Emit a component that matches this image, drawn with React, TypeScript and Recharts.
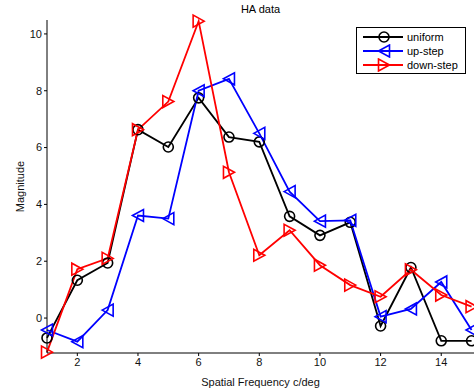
import React from "react";
import { LineChart, Line, XAxis, YAxis, Label } from "recharts";

const freq = [1, 2, 3, 4, 5, 6, 7, 8, 9, 10, 11, 12, 13, 14, 15];
const uniform = [-0.7, 1.33, 1.94, 6.63, 6.02, 7.75, 6.37, 6.2, 3.58, 2.91, 3.37, -0.28, 1.78, -0.8, -0.8];
const upStep = [-0.42, -0.83, 0.28, 3.61, 3.5, 8.0, 8.42, 6.5, 4.45, 3.41, 3.44, 0.05, 0.32, 1.27, -0.42];
const downStep = [-1.2, 1.72, 2.1, 6.63, 7.62, 10.45, 5.13, 2.21, 3.09, 1.86, 1.16, 0.75, 1.7, 0.81, 0.4];
const xTicks = [2, 4, 6, 8, 10, 12, 14];
const yTicks = [0, 2, 4, 6, 8, 10];

const data = freq.map((f, i) => ({ f, uniform: uniform[i], up: upStep[i], down: downStep[i] }));

const FONT = '"Liberation Sans", Arial, sans-serif';

const circleDot = (p: any) => (
  <circle key={`u${p.index}`} cx={p.cx} cy={p.cy} r={5} fill="none" stroke="#000" strokeWidth={1.6} />
);
const leftTri = (p: any) => (
  <polygon
    key={`l${p.index}`}
    points={`${p.cx - 5.5},${p.cy} ${p.cx + 5.5},${p.cy - 6} ${p.cx + 5.5},${p.cy + 6}`}
    fill="none"
    stroke="#0000ff"
    strokeWidth={1.6}
  />
);
const rightTri = (p: any) => (
  <polygon
    key={`r${p.index}`}
    points={`${p.cx + 5.5},${p.cy} ${p.cx - 5.5},${p.cy - 6} ${p.cx - 5.5},${p.cy + 6}`}
    fill="none"
    stroke="#ff0000"
    strokeWidth={1.6}
  />
);

const legendRows = [
  { name: "uniform", color: "#000", dot: circleDot },
  { name: "up-step", color: "#0000ff", dot: leftTri },
  { name: "down-step", color: "#ff0000", dot: rightTri },
];

function LegendBox() {
  return (
    <div
      style={{
        position: "absolute",
        left: 356,
        top: 27,
        width: 108,
        height: 45,
        border: "1px solid #000",
        background: "#fff",
        fontFamily: FONT,
        fontSize: 11,
        color: "#000",
        zIndex: 2,
      }}
    >
      {legendRows.map((r, i) => (
        <div key={r.name} style={{ display: "flex", alignItems: "center", height: 14, marginTop: i === 0 ? 2 : 0 }}>
          <svg width={50} height={14} style={{ marginLeft: 6 }}>
            <line x1={0} y1={7} x2={40} y2={7} stroke={r.color} strokeWidth={2} />
            {r.dot({ cx: 21, cy: 7, index: i })}
          </svg>
          <span style={{ marginLeft: -6 }}>{r.name}</span>
        </div>
      ))}
    </div>
  );
}

export default function App() {
  return (
    <div style={{ position: "absolute", left: 0, top: 0, width: 474, height: 389, background: "#fff" }}>
      <div
        style={{
          position: "absolute",
          left: 47,
          width: 427,
          top: 3,
          textAlign: "center",
          fontFamily: FONT,
          fontSize: 11,
          color: "#000",
        }}
      >
        HA data
      </div>
      <LineChart width={474} height={389} data={data} margin={{ top: 20, right: 0, bottom: 0, left: 0 }}>
        <XAxis
          dataKey="f"
          type="number"
          domain={[1, 15.08]}
          ticks={xTicks}
          height={36}
          tickSize={3}
          stroke="#000"
          tick={{ fill: "#111", fontSize: 11, fontFamily: FONT }}
        >
          <Label value="Spatial Frequency c/deg" position="insideBottom" offset={3} fill="#111" fontSize={11} fontFamily={FONT} />
        </XAxis>
        <YAxis
          type="number"
          domain={[-1.23, 10.49]}
          ticks={yTicks}
          width={47}
          tickSize={3}
          stroke="#000"
          tick={{ fill: "#111", fontSize: 11, fontFamily: FONT }}
        >
          <Label value="Magnitude" angle={-90} position="insideLeft" offset={20} fill="#111" fontSize={11} fontFamily={FONT} style={{ textAnchor: "middle" }} />
        </YAxis>
        <Line dataKey="uniform" stroke="#000" strokeWidth={1.8} dot={circleDot} activeDot={false} isAnimationActive={false} />
        <Line dataKey="up" stroke="#0000ff" strokeWidth={1.8} dot={leftTri} activeDot={false} isAnimationActive={false} />
        <Line dataKey="down" stroke="#ff0000" strokeWidth={1.8} dot={rightTri} activeDot={false} isAnimationActive={false} />
      </LineChart>
      <LegendBox />
    </div>
  );
}
